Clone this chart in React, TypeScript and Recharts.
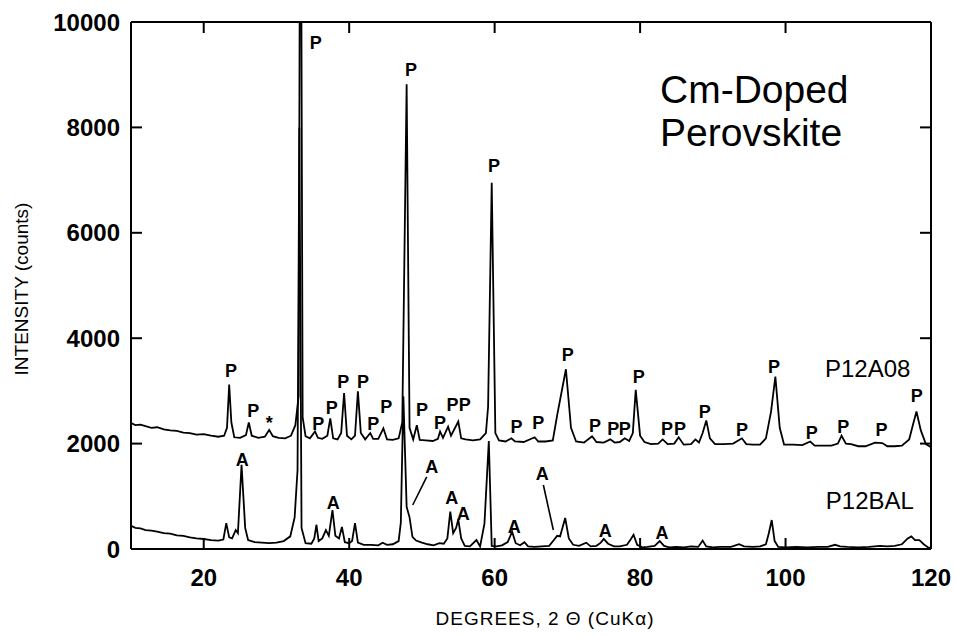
import React from 'react';
import { LineChart, Line, XAxis, YAxis, ReferenceDot, ReferenceLine } from 'recharts';

const FONT = '"Liberation Sans", Arial, Helvetica, sans-serif';

const xTicks = [20, 40, 60, 80, 100, 120];
const yTicks = [0, 2000, 4000, 6000, 8000, 10000];

// P12A08 pattern: [2θ (deg), intensity (counts)]
const p12a08: [number, number][] = [
  [10.0, 2390], [10.6, 2350], [11.3, 2360], [12.0, 2330], [12.8, 2300], [13.6, 2310],
  [14.5, 2270], [15.4, 2250], [16.3, 2240], [17.2, 2210], [18.1, 2200], [19.0, 2170],
  [20.0, 2180], [21.0, 2150], [22.0, 2130], [22.8, 2150], [23.2, 2300], [23.5, 3120],
  [23.8, 2400], [24.2, 2120], [25.0, 2110], [25.8, 2160], [26.2, 2400], [26.6, 2150],
  [27.5, 2110], [28.4, 2130], [29.0, 2260], [29.5, 2140], [30.3, 2110], [31.2, 2100],
  [32.0, 2150], [32.6, 2350], [33.05, 2900], [33.3, 16000], [33.6, 2500], [34.0, 2140],
  [34.6, 2100], [35.3, 2230], [35.7, 2110], [36.3, 2090], [37.0, 2150], [37.4, 2480],
  [37.8, 2100], [38.4, 2080], [38.9, 2200], [39.3, 2960], [39.7, 2150], [40.3, 2080],
  [40.8, 2150], [41.2, 2990], [41.6, 2200], [42.2, 2080], [42.9, 2200], [43.3, 2090],
  [44.0, 2090], [44.7, 2290], [45.2, 2080], [46.0, 2070], [46.8, 2100], [47.3, 2400],
  [47.9, 8820], [48.3, 2300], [48.8, 2080], [49.3, 2350], [49.7, 2070], [50.5, 2060],
  [51.5, 2050], [52.2, 2090], [52.5, 2230], [52.9, 2110], [53.6, 2320], [54.0, 2150],
  [55.0, 2420], [55.4, 2100], [56.0, 2080], [57.0, 2060], [58.0, 2080], [58.8, 2200],
  [59.1, 2700], [59.6, 6950], [60.1, 2200], [60.6, 2060], [61.5, 2040], [62.3, 2100],
  [62.8, 2040], [64.0, 2030], [65.5, 2120], [66.0, 2040], [67.0, 2040], [68.0, 2060],
  [68.6, 2540], [69.8, 3410], [70.5, 2300], [71.2, 2040], [72.3, 2020], [73.4, 2140],
  [74.0, 2030], [75.0, 2020], [75.9, 2080], [76.5, 2020], [77.2, 2030], [77.9, 2100],
  [78.5, 2050], [79.0, 2200], [79.4, 3020], [80.0, 2150], [80.6, 2030], [81.5, 1990],
  [82.5, 2000], [83.1, 2080], [83.8, 1990], [84.7, 2000], [85.3, 2120], [86.0, 1980],
  [87.0, 1990], [87.6, 2080], [88.1, 2020], [88.6, 2200], [89.1, 2440], [89.6, 2100],
  [90.3, 1990], [91.5, 1990], [92.8, 2000], [94.0, 2100], [94.6, 1990], [95.5, 1980],
  [96.5, 1980], [97.3, 2100], [98.0, 2600], [98.6, 3270], [99.2, 2300], [99.8, 1980],
  [101.0, 1980], [102.3, 1970], [103.4, 2040], [104.0, 1960], [105.0, 1960], [106.3, 1960],
  [107.2, 2000], [107.7, 2150], [108.3, 2000], [109.0, 1990], [110.0, 1950], [111.0, 1950],
  [112.3, 2020], [113.3, 2010], [114.0, 1950], [115.0, 1950], [116.0, 1960], [117.0, 2080],
  [117.5, 2350], [118.0, 2610], [118.6, 2250], [119.3, 1990], [120.0, 1930],
];

// P12BAL pattern: [2θ (deg), intensity (counts)]
const p12bal: [number, number][] = [
  [10.0, 440], [10.6, 400], [11.3, 390], [12.0, 360], [12.8, 350], [13.6, 330],
  [14.5, 300], [15.4, 290], [16.3, 260], [17.2, 250], [18.1, 220], [19.0, 200],
  [20.0, 190], [21.0, 170], [22.0, 160], [22.7, 180], [23.1, 490], [23.5, 220],
  [23.9, 200], [24.4, 360], [24.7, 300], [25.2, 1600], [25.7, 400], [26.1, 170],
  [27.0, 130], [28.0, 120], [29.0, 110], [30.0, 120], [31.0, 150], [31.9, 240],
  [32.5, 600], [32.9, 1500], [33.15, 8000], [33.45, 400], [34.0, 110], [34.8, 100],
  [35.2, 200], [35.5, 460], [35.8, 150], [36.3, 200], [36.8, 360], [37.2, 250],
  [37.7, 740], [38.1, 250], [38.6, 200], [39.0, 420], [39.4, 130], [40.0, 110],
  [40.4, 150], [40.8, 490], [41.2, 120], [42.0, 80], [43.0, 80], [44.0, 70],
  [44.6, 120], [45.2, 80], [46.0, 90], [46.8, 150], [47.1, 500], [47.45, 2900],
  [47.9, 800], [48.3, 600], [48.7, 230], [49.2, 160], [50.0, 120], [50.8, 90],
  [51.6, 70], [52.4, 110], [53.0, 100], [53.5, 200], [53.9, 710], [54.3, 300],
  [54.7, 400], [55.0, 560], [55.4, 200], [55.9, 60], [56.6, 50], [57.5, 170],
  [58.0, 50], [58.6, 480], [59.2, 2050], [59.6, 60], [60.3, 50], [61.0, 70],
  [61.8, 130], [62.4, 330], [62.9, 110], [63.5, 70], [64.1, 130], [64.6, 50],
  [65.5, 40], [66.5, 50], [67.5, 60], [68.2, 180], [68.6, 250], [69.0, 240],
  [69.7, 590], [70.2, 200], [70.8, 80], [71.6, 60], [72.6, 120], [73.2, 50],
  [74.0, 60], [74.6, 120], [75.0, 190], [75.6, 100], [76.4, 50], [77.2, 50],
  [78.2, 80], [78.7, 180], [79.1, 270], [79.6, 80], [80.3, 30], [81.0, 40],
  [82.0, 60], [82.7, 150], [83.3, 60], [84.0, 30], [85.0, 40], [86.0, 30],
  [87.0, 50], [88.0, 40], [88.6, 160], [89.1, 50], [90.0, 30], [91.0, 40],
  [92.5, 40], [93.6, 90], [94.3, 50], [95.5, 40], [96.5, 50], [97.3, 90],
  [97.7, 300], [98.1, 550], [98.5, 150], [99.0, 40], [100.0, 30], [101.5, 40],
  [103.0, 30], [104.5, 40], [105.8, 40], [106.8, 80], [107.5, 50], [108.5, 40],
  [110.0, 30], [111.5, 40], [113.0, 60], [114.0, 50], [115.0, 60], [116.0, 90],
  [116.8, 200], [117.3, 240], [117.8, 170], [118.4, 170], [119.0, 90], [119.6, 30],
  [120.0, 20],
];

// phase markers: [2θ, counts, letter]
const perovskiteMarks: [number, number, string][] = [
  [23.75, 3380, 'P'], [26.8, 2630, 'P'], [29.0, 2390, '*'], [35.4, 9610, 'P'],
  [35.75, 2370, 'P'], [37.6, 2680, 'P'], [39.2, 3180, 'P'], [41.9, 3180, 'P'],
  [43.3, 2370, 'P'], [45.1, 2700, 'P'], [48.5, 9090, 'P'], [50.0, 2640, 'P'],
  [52.5, 2390, 'P'], [54.2, 2740, 'P'], [55.9, 2740, 'P'], [59.9, 7270, 'P'],
  [63.0, 2320, 'P'], [66.0, 2390, 'P'], [70.05, 3680, 'P'], [73.8, 2340, 'P'],
  [76.3, 2280, 'P'], [77.9, 2280, 'P'], [79.8, 3280, 'P'], [83.7, 2280, 'P'],
  [85.5, 2280, 'P'], [88.9, 2610, 'P'], [94.0, 2260, 'P'], [98.4, 3460, 'P'],
  [103.6, 2200, 'P'], [107.95, 2320, 'P'], [113.2, 2260, 'P'], [118.05, 2910, 'P'],
];

const otherPhaseMarks: [number, number, string][] = [
  [25.3, 1690, 'A'], [37.8, 880, 'A'], [51.35, 1560, 'A'], [54.1, 970, 'A'],
  [55.7, 680, 'A'], [62.7, 420, 'A'], [66.56, 1440, 'A'], [75.2, 340, 'A'],
  [83.0, 310, 'A'],
];

// leader lines from a marker to its peak: [x1, y1, x2, y2]
const leaderLines: [number, number, number, number][] = [
  [50.66, 1370, 48.74, 835],
  [66.7, 1215, 68.07, 360],
];

const seriesNames: [number, number, string][] = [
  [111.3, 3420, 'P12A08'],
  [111.6, 930, 'P12BAL'],
];

const toPoints = (arr: [number, number][]) => arr.map(([x, y]) => ({ x, y }));

const BOTTOM_MARGIN = 20;
const LEFT_MARGIN = 11;
const TICK_LEN = 11;

const BottomTick = (props: any) => {
  const { x, y, payload } = props;
  const axisY = y - BOTTOM_MARGIN;
  return (
    <g>
      <line x1={x} x2={x} y1={axisY} y2={axisY - TICK_LEN} stroke="#000" strokeWidth={2} />
      <text x={x} y={y} dy="0.71em" textAnchor="middle" fontSize={24} fontWeight="bold" fontFamily={FONT} fill="#000">
        {payload.value}
      </text>
    </g>
  );
};

const TopTick = (props: any) => {
  const { x, y } = props;
  return <line x1={x} x2={x} y1={y} y2={y + TICK_LEN} stroke="#000" strokeWidth={2} />;
};

const LeftTick = (props: any) => {
  const { x, y, payload } = props;
  const axisX = x + LEFT_MARGIN;
  return (
    <g>
      <line x1={axisX} x2={axisX + TICK_LEN} y1={y} y2={y} stroke="#000" strokeWidth={2} />
      <text x={x} y={y} dy="0.355em" textAnchor="end" fontSize={24} fontWeight="bold" fontFamily={FONT} fill="#000">
        {payload.value}
      </text>
    </g>
  );
};

const RightTick = (props: any) => {
  const { x, y } = props;
  return <line x1={x} x2={x - TICK_LEN} y1={y} y2={y} stroke="#000" strokeWidth={2} />;
};

const axisLineStyle = { stroke: '#000', strokeWidth: 2 };

export default function App() {
  return (
    <div style={{ position: 'absolute', left: 0, top: 0, width: 955, height: 636, background: '#fff' }}>
      <LineChart width={955} height={636} margin={{ top: 0, right: 0, bottom: 0, left: 0 }}>
        <XAxis
          xAxisId="b" type="number" dataKey="x" domain={[10, 120]} ticks={xTicks}
          orientation="bottom" height={87} allowDataOverflow
          tick={<BottomTick />} tickLine={false} tickSize={0} tickMargin={BOTTOM_MARGIN}
          axisLine={axisLineStyle}
        />
        <XAxis
          xAxisId="t" type="number" dataKey="x" domain={[10, 120]} ticks={xTicks}
          orientation="top" height={22} allowDataOverflow
          tick={<TopTick />} tickLine={false} tickSize={0} tickMargin={0}
          axisLine={axisLineStyle}
        />
        <YAxis
          yAxisId="l" type="number" dataKey="y" domain={[0, 10000]} ticks={yTicks}
          width={131} allowDataOverflow
          tick={<LeftTick />} tickLine={false} tickSize={0} tickMargin={LEFT_MARGIN}
          axisLine={axisLineStyle}
        />
        <YAxis
          yAxisId="r" type="number" dataKey="y" domain={[0, 10000]} ticks={yTicks}
          orientation="right" width={24} allowDataOverflow
          tick={<RightTick />} tickLine={false} tickSize={0} tickMargin={0}
          axisLine={axisLineStyle}
        />
        <Line
          xAxisId="b" yAxisId="l" data={toPoints(p12a08)} dataKey="y" type="linear"
          stroke="#000" strokeWidth={1.8} dot={false} isAnimationActive={false}
        />
        <Line
          xAxisId="b" yAxisId="l" data={toPoints(p12bal)} dataKey="y" type="linear"
          stroke="#000" strokeWidth={1.8} dot={false} isAnimationActive={false}
        />
        {leaderLines.map(([x1, y1, x2, y2], i) => (
          <ReferenceLine
            key={'ll' + i} xAxisId="b" yAxisId="l"
            segment={[{ x: x1, y: y1 }, { x: x2, y: y2 }]}
            stroke="#000" strokeWidth={1.6}
          />
        ))}
        {[...perovskiteMarks, ...otherPhaseMarks].map(([x, y, t], i) => (
          <ReferenceDot
            key={'m' + i} xAxisId="b" yAxisId="l" x={x} y={y} r={0}
            fill="none" stroke="none" ifOverflow="visible"
            label={{ value: t, position: 'center', fontSize: 18, fontWeight: 'bold', fill: '#000', fontFamily: FONT }}
          />
        ))}
        {seriesNames.map(([x, y, t], i) => (
          <ReferenceDot
            key={'s' + i} xAxisId="b" yAxisId="l" x={x} y={y} r={0}
            fill="none" stroke="none" ifOverflow="visible"
            label={{ value: t, position: 'center', fontSize: 24, fill: '#000', fontFamily: FONT }}
          />
        ))}
      </LineChart>
      <svg width={955} height={636} style={{ position: 'absolute', left: 0, top: 0, pointerEvents: 'none' }}>
        <text x={660} y={103} fontSize={39} fontFamily={FONT} fill="#000">Cm-Doped</text>
        <text x={660} y={146} fontSize={39} fontFamily={FONT} fill="#000">Perovskite</text>
        <text
          x={21} y={289} transform="rotate(-90 21 289)" textAnchor="middle" dominantBaseline="central"
          fontSize={19} fontFamily={FONT} fill="#000"
        >
          INTENSITY (counts)
        </text>
        <text x={545} y={618} textAnchor="middle" dominantBaseline="central" fontSize={19} letterSpacing={1} fontFamily={FONT} fill="#000">
          DEGREES, 2 Θ (CuKα)
        </text>
      </svg>
    </div>
  );
}
